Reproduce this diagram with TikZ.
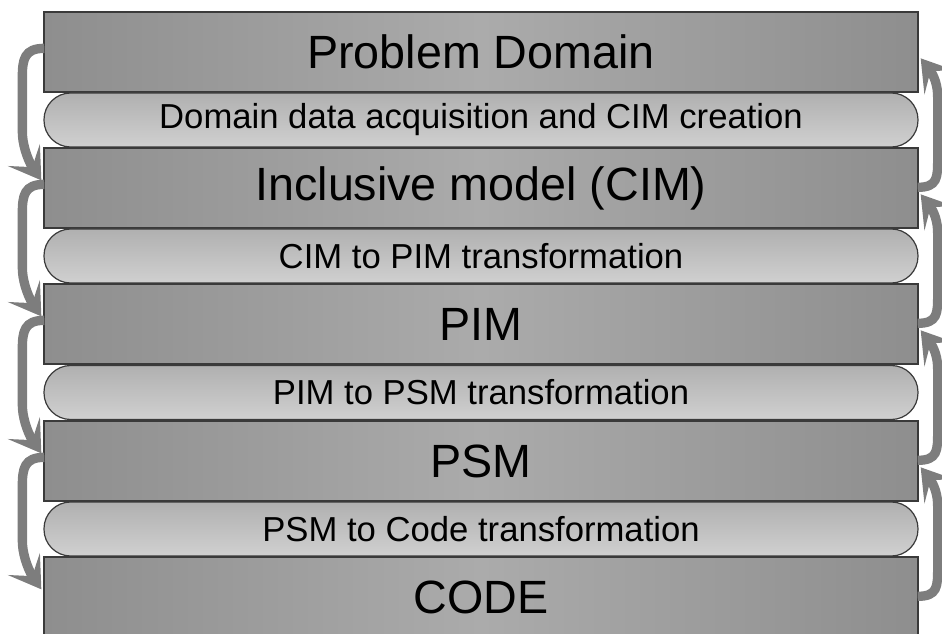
\documentclass[tikz,border=0pt]{standalone}
\usepackage{fontspec}
\setmainfont{Liberation Sans}
\usetikzlibrary{calc,arrows.meta,bending}
\definecolor{boxedge}{HTML}{8E8E8E}
\definecolor{boxmid}{HTML}{ABABAB}
\definecolor{pilltop}{HTML}{B0B0B0}
\definecolor{pillbot}{HTML}{D0D0D0}
\definecolor{arrgray}{HTML}{7D7D7D}
\definecolor{border}{HTML}{3A3A3A}
\tikzset{
  stage/.style={draw=border, line width=1pt, left color=boxedge, right color=boxedge, middle color=boxmid,
    minimum width=655.5pt, minimum height=60pt, inner sep=0pt, font=\fontsize{35}{40}\selectfont},
  pill/.style={draw=border, line width=0.9pt, top color=pilltop, bottom color=pillbot,
    rounded corners=20pt, minimum width=655.5pt, minimum height=40.5pt, inner sep=0pt,
    font=\fontsize{26}{30}\selectfont},
  arr/.style={draw=arrgray, line width=7pt,
    -{Stealth[length=23pt, width=29pt, inset=11pt, flex]}},
}
\begin{document}
\begin{tikzpicture}[x=0.75pt, y=-0.75pt]
\useasboundingbox (0,0) rectangle (942,634);
\begin{scope}
\clip (0,0) rectangle (942,634);
\node[stage] (b1) at (481,52) {Problem Domain};
\node[pill]  (p1) at (481,120) {Domain data acquisition and CIM creation};
\node[stage] (b2) at (481,188) {Inclusive model (CIM)};
\node[pill]  (p2) at (481,256) {CIM to PIM transformation};
\node[stage] (b3) at (481,324) {PIM};
\node[pill]  (p3) at (481,392.5) {PIM to PSM transformation};
\node[stage] (b4) at (481,461) {PSM};
\node[pill]  (p4) at (481,529) {PSM to Code transformation};
\node[stage] (b5) at (481,597) {CODE};
\end{scope}
% left arrows: downward, from box i to box i+1
\foreach \a/\b in {b1/b2,b2/b3,b3/b4,b4/b5}{
  \draw[arr] ($(\a.north west)+(1,37)$) .. controls +(-20,0) and +(0,-18) .. ($(\a.north west)+(-21,66)$)
     -- ($(\b.north west)+(-21,-16)$) .. controls +(0,18) and +(-10,-11) .. ($(\b.north west)+(-2,33)$);
}
% right arrows: upward, from box i+1 to box i
\foreach \a/\b in {b2/b1,b3/b2,b4/b3,b5/b4}{
  \draw[arr] ($(\a.north east)+(-1,40)$) .. controls +(20,0) and +(0,18) .. ($(\a.north east)+(19,12)$)
     -- ($(\b.north east)+(19,86)$) .. controls +(0,-18) and +(10,11) .. ($(\b.north east)+(2,47)$);
}
\end{tikzpicture}
\end{document}
